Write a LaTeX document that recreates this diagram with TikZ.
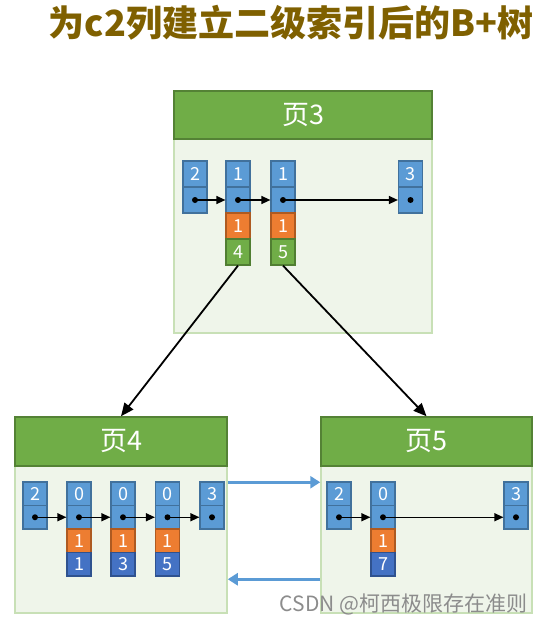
\documentclass[tikz,border=0pt]{standalone}
\usepackage{fontspec}
\setmainfont{Noto Sans CJK SC}
\usetikzlibrary{arrows.meta,calc}
\definecolor{ctitle}{HTML}{7F6000}
\definecolor{hdr}{HTML}{70AD47}
\definecolor{hdrD}{HTML}{548235}
\definecolor{bodyF}{HTML}{EFF5EA}
\definecolor{bodyD}{HTML}{C8E0B6}
\definecolor{cblue}{HTML}{5B9BD5}
\definecolor{cblueD}{HTML}{41719C}
\definecolor{corange}{HTML}{ED7D31}
\definecolor{corangeD}{HTML}{AE5A21}
\definecolor{cgreen}{HTML}{70AD47}
\definecolor{cgreenD}{HTML}{507E32}
\definecolor{cdark}{HTML}{4472C4}
\definecolor{cdarkD}{HTML}{2F528F}
\definecolor{linkC}{HTML}{5B9BD5}
\tikzset{
  pagebody/.style={draw=bodyD, fill=bodyF, line width=1.5pt, inner sep=0pt},
  pagehead/.style={draw=hdrD, fill=hdr, line width=1.5pt, inner sep=0pt, text=white, font=\fontsize{27}{27}\selectfont},
  cell/.style={line width=1.2pt, minimum width=24pt, inner sep=0pt, text=white, font=\fontsize{18}{18}\selectfont},
  cb/.style={cell, fill=cblue, draw=cblueD},
  co/.style={cell, fill=corange, draw=corangeD},
  cg/.style={cell, fill=cgreen, draw=cgreenD},
  cd/.style={cell, fill=cdark, draw=cdarkD},
  tall/.style={minimum height=26pt},
  short/.style={minimum height=23.5pt},
  ptr/.style={line width=1.3pt, -{Triangle[length=9pt,width=8pt]}},
  conn/.style={line width=1.8pt, -{Triangle[length=13pt,width=11pt]}},
  link/.style={draw=linkC, line width=2.5pt, -{Triangle[length=10pt,width=12pt]}},
}
\begin{document}
\begin{tikzpicture}[x=1pt,y=-1pt]
\useasboundingbox (0,0) rectangle (544,623);
% title
\node[font=\bfseries\fontsize{36}{36}\selectfont, text=ctitle] (title) at (291,23) {为c2列建立二级索引后的B+树};
% page bodies
\node[pagebody, minimum width=258pt, minimum height=242pt] (p3) at (303,212) {};
\node[pagehead, minimum width=258pt, minimum height=48pt] (p3h) at (303,115) {页3};
\node[pagebody, minimum width=212pt, minimum height=196pt] (p4) at (121,515) {};
\node[pagehead, minimum width=212pt, minimum height=49pt] (p4h) at (121,441.5) {页4};
\node[pagebody, minimum width=211pt, minimum height=196pt] (p5) at (426.5,515) {};
\node[pagehead, minimum width=211pt, minimum height=49pt] (p5h) at (426.5,441.5) {页5};
% page 3 cells
\node[cb,tall] (p3a) at (195,174) {2};
\node[cb,tall] (p3ap) at (195,200) {};
\node[cb,tall] (p3b) at (238,174) {1};
\node[cb,tall] (p3bp) at (238,200) {};
\node[co,tall] (p3bo) at (238,226) {1};
\node[cg,tall] (p3bg) at (238,252) {4};
\node[cb,tall] (p3c) at (283,174) {1};
\node[cb,tall] (p3cp) at (283,200) {};
\node[co,tall] (p3co) at (283,226) {1};
\node[cg,tall] (p3cg) at (283,252) {5};
\node[cb,tall] (p3d) at (410.5,174) {3};
\node[cb,tall] (p3dp) at (410.5,200) {};
\foreach \n in {p3ap,p3bp,p3cp,p3dp} \fill (\n.center) circle (3pt);
\draw[ptr] (p3ap.center) -- (p3bp.west);
\draw[ptr] (p3bp.center) -- (p3cp.west);
\draw[ptr] (p3cp.center) -- (p3dp.west);
% page 4 cells
\node[cb,short] (p4a) at (35,493.75) {2};
\node[cb,short] (p4ap) at (35,517.25) {};
\node[cb,short] (p4b) at (79,493.75) {0};
\node[cb,short] (p4bp) at (79,517.25) {};
\node[co,short] (p4bo) at (79,540.75) {1};
\node[cd,short] (p4bd) at (79,564.25) {1};
\node[cb,short] (p4c) at (123,493.75) {0};
\node[cb,short] (p4cp) at (123,517.25) {};
\node[co,short] (p4co) at (123,540.75) {1};
\node[cd,short] (p4cd) at (123,564.25) {3};
\node[cb,short] (p4d) at (167.5,493.75) {0};
\node[cb,short] (p4dp) at (167.5,517.25) {};
\node[co,short] (p4do) at (167.5,540.75) {1};
\node[cd,short] (p4dd) at (167.5,564.25) {5};
\node[cb,short] (p4e) at (212,493.75) {3};
\node[cb,short] (p4ep) at (212,517.25) {};
\foreach \n in {p4ap,p4bp,p4cp,p4dp,p4ep} \fill (\n.center) circle (3pt);
\draw[ptr] (p4ap.center) -- (p4bp.west);
\draw[ptr] (p4bp.center) -- (p4cp.west);
\draw[ptr] (p4cp.center) -- (p4dp.west);
\draw[ptr] (p4dp.center) -- (p4ep.west);
% page 5 cells
\node[cb,short] (p5a) at (339,493.75) {2};
\node[cb,short] (p5ap) at (339,517.25) {};
\node[cb,short] (p5b) at (383,493.75) {0};
\node[cb,short] (p5bp) at (383,517.25) {};
\node[co,short] (p5bo) at (383,540.75) {1};
\node[cd,short] (p5bd) at (383,564.25) {7};
\node[cb,short] (p5c) at (516,493.75) {3};
\node[cb,short] (p5cp) at (516,517.25) {};
\foreach \n in {p5ap,p5bp,p5cp} \fill (\n.center) circle (3pt);
\draw[ptr] (p5ap.center) -- (p5bp.west);
\draw[ptr] (p5bp.center) -- (p5cp.west);
% connectors between pages
\draw[conn] (p3bg.south) -- (p4h.north);
\draw[conn] (p3cg.south) -- (p5h.north);
\draw[link] ($(p4.north east)+(0,66)$) -- ($(p5.north west)+(0,66)$);
\draw[link] ($(p5.north west)+(0,163)$) -- ($(p4.north east)+(0,163)$);
% watermark
\node[anchor=east, text=black!45, font=\fontsize{21}{21}\selectfont] (wm) at (531,604) {CSDN @柯西极限存在准则};
\end{tikzpicture}
\end{document}
